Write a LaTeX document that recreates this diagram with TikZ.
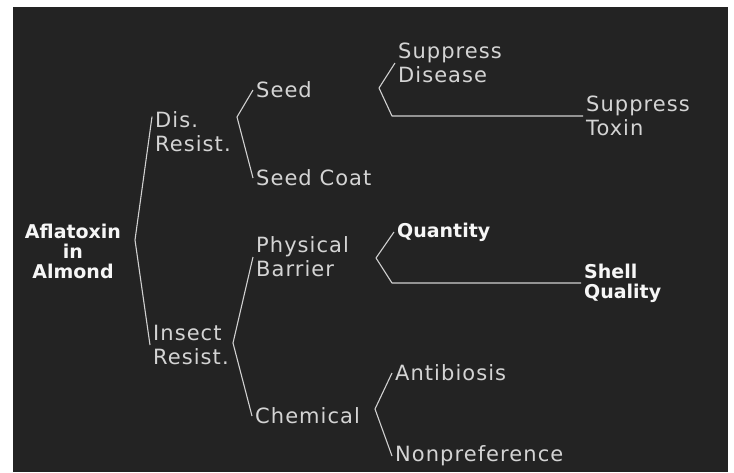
\documentclass[tikz,border=0pt]{standalone}
\usepackage{fontspec}
\setmainfont{DejaVu Sans}
\newfontfamily\treefont[LetterSpace=5]{DejaVu Sans}
\usetikzlibrary{positioning}
\definecolor{Board}{HTML}{232323}
\definecolor{ChalkText}{HTML}{D4D4D4}
\definecolor{ChalkBold}{HTML}{F6F6F6}
\definecolor{ChalkLine}{HTML}{D0D0D0}

\begin{document}
\begin{tikzpicture}[x=1pt,y=-1pt,
  leaf/.style={anchor=west,align=left,inner xsep=3pt,inner ysep=0pt,text=ChalkText,font=\treefont\fontsize{21}{24}\selectfont},
  head/.style={anchor=west,align=left,inner xsep=3pt,inner ysep=0pt,text=ChalkBold,font=\bfseries\fontsize{19}{20}\selectfont},
  branch/.style={draw=ChalkLine,line width=1.1pt,line join=round}
]
\fill[white] (0,0) rectangle (734,472);
\fill[Board] (13,7) rectangle (728,472);
\useasboundingbox (0,0) rectangle (734,472);
% labels
\node[head,align=center,anchor=center] (root) at (73,251) {Aflatoxin\\in\\Almond};
\node[leaf] (disres) at (152,132) {Dis.\\Resist.};
\node[leaf] (insres) at (150,345) {Insect\\Resist.};
\node[leaf] (seed) at (253,90) {Seed};
\node[leaf] (seedcoat) at (253,178) {Seed Coat};
\node[leaf] (physbar) at (253,257) {Physical\\Barrier};
\node[leaf] (chem) at (252,416) {Chemical};
\node[leaf] (supdis) at (395,63) {Suppress\\Disease};
\node[leaf] (suptox) at (583,116) {Suppress\\Toxin};
\node[head] (quant) at (394,232) {Quantity};
\node[head] (shellq) at (581,283) {Shell\\Quality};
\node[leaf] (antib) at (392,373) {Antibiosis};
\node[leaf] (nonpref) at (392,456) {Nonpreference};
% forks
\coordinate (rootfork) at (135,240);
\coordinate (disfork) at (237,117);
\coordinate (insfork) at (233,343);
\coordinate (seedfork) at (379,88);
\coordinate (seedbend) at (392,116);
\coordinate (physfork) at (376,258);
\coordinate (physbend) at (392,283);
\coordinate (chemfork) at (375,409);
% brackets
\draw[branch] ([yshift=-5pt]disres.north west) -- (rootfork) -- (insres.west);
\draw[branch] (seed.west) -- (disfork) -- (seedcoat.west);
\draw[branch] (physbar.west) -- (insfork) -- (chem.west);
\draw[branch] (supdis.west) -- (seedfork) -- (seedbend) -- (suptox.west);
\draw[branch] (quant.west) -- (physfork) -- (physbend) -- (shellq.west);
\draw[branch] (antib.west) -- (chemfork) -- (nonpref.west);
\end{tikzpicture}
\end{document}
